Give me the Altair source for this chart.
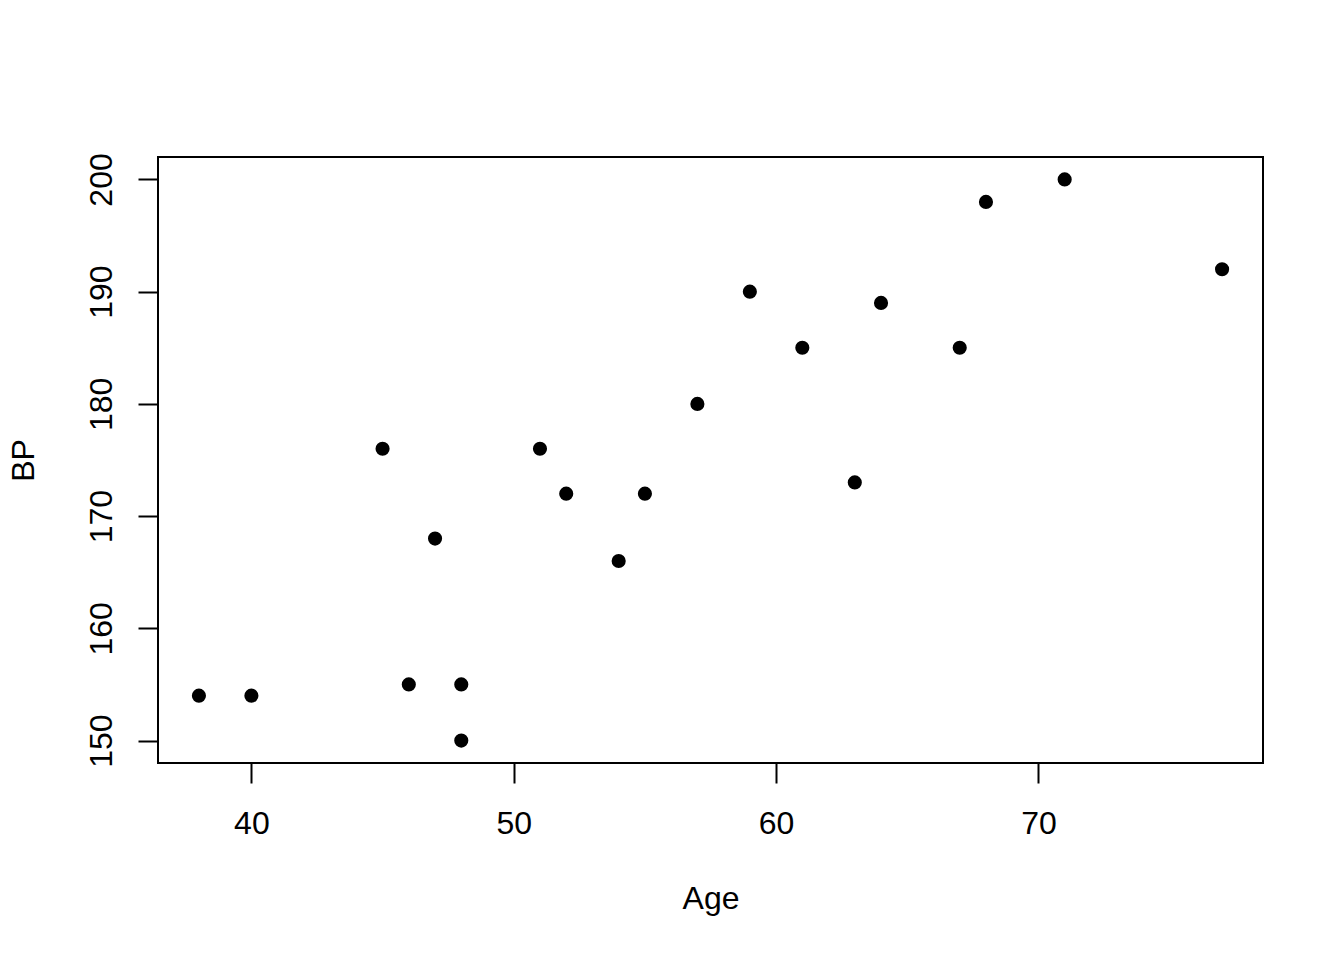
import altair as alt
import pandas as pd

age = [38, 40, 45, 46, 47, 48, 48, 51, 52, 54, 55, 57, 59, 61, 63, 64, 67, 68, 71, 77]
bp = [154, 154, 176, 155, 168, 155, 150, 176, 172, 166, 172, 180, 190, 185, 173, 189, 185, 198, 200, 192]
x_ticks = [40, 50, 60, 70]
y_ticks = [150, 160, 170, 180, 190, 200]

df = pd.DataFrame({"Age": age, "BP": bp})
FONT = "Liberation Sans"

chart = alt.Chart(df).mark_circle(size=200, color="black", opacity=1).encode(
    x=alt.X("Age:Q",
            scale=alt.Scale(domain=[36.44, 78.56], nice=False, zero=False),
            axis=alt.Axis(values=x_ticks, domain=False, grid=False, tickSize=20, tickWidth=2,
                          tickColor="black", labelFont=FONT, labelFontSize=32, labelColor="black",
                          labelBaseline="alphabetic", labelPadding=50, labelAlign="center",
                          title="Age", titleFont=FONT, titleFontSize=32, titleFontWeight="normal",
                          titleColor="black", titleBaseline="alphabetic", titleX=552.5, titleY=145,
                          titleAlign="center")),
    y=alt.Y("BP:Q",
            scale=alt.Scale(domain=[148, 202], nice=False, zero=False),
            axis=alt.Axis(values=y_ticks, domain=False, grid=False, tickSize=20, tickWidth=2,
                          tickColor="black", labelFont=FONT, labelFontSize=32, labelColor="black",
                          labelAngle=270, labelAlign="center", labelBaseline="alphabetic",
                          labelPadding=27,
                          title="BP", titleFont=FONT, titleFontSize=32, titleFontWeight="normal",
                          titleColor="black", titleAngle=270, titleBaseline="alphabetic",
                          titleX=-125, titleY=303, titleAlign="center")),
).properties(
    width=1105, height=606,
    autosize=alt.AutoSizeParams(type="none"),
    padding={"left": 150, "top": 149, "right": 70, "bottom": 180},
).configure(
    background="white",
    view=alt.ViewConfig(stroke="black", strokeWidth=2),
)

chart.save("out.html", embed_options={"renderer": "svg", "actions": False})
